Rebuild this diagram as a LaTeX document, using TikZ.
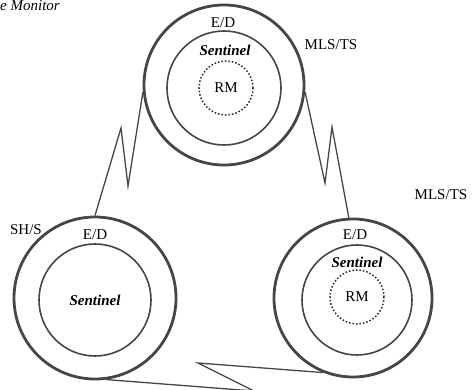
\documentclass[tikz,border=0pt]{standalone}
\usepackage{fontspec}
\setmainfont{Liberation Serif}
\usetikzlibrary{positioning}
\definecolor{RING}{HTML}{464646}
\tikzset{
    outer/.style={circle,draw=RING,line width=2.8pt,inner sep=0pt},
    inner/.style={circle,draw=RING,line width=1.6pt,inner sep=0pt},
    rmring/.style={circle,draw=black!85,line width=1.5pt,dotted,inner sep=0pt,minimum size=54pt},
    lbl/.style={font=\fontsize{15}{18}\selectfont,inner sep=0pt},
    sent/.style={font=\fontsize{15}{18}\selectfont\bfseries\itshape,inner sep=0pt},
    zig/.style={draw=RING,line width=1.3pt,line join=miter}
}

\begin{document}
\begin{tikzpicture}[x=1pt,y=-1pt]
        \useasboundingbox (0,0) rectangle (472,390);
        \node[lbl,font=\fontsize{15}{18}\selectfont\itshape,anchor=north west] (title) at (0,0.5) {e Monitor};

        % top host
        \node[outer,minimum size=160pt] (T) at (224,85) {};
        \node[inner,minimum size=114pt] (Tin) at (224,88) {};
        \node[rmring,lbl] (Trm) at (226,88) {RM};
        \node[lbl] (Ted) at (223,23) {E/D};
        \node[sent] (Tsen) at (225,50) {Sentinel};
        \node[lbl] (Tlev) at (331,45) {MLS/TS};

        % left host
        \node[outer,minimum size=162pt] (L) at (95,298) {};
        \node[inner,minimum size=112pt] (Lin) at (95,300) {};
        \node[lbl] (Led) at (95,235) {E/D};
        \node[sent] (Lsen) at (95,300) {Sentinel};
        \node[lbl] (Llev) at (26,230) {SH/S};

        % right host
        \node[outer,minimum size=158pt] (R) at (353,298) {};
        \node[inner,minimum size=110pt] (Rin) at (357,300) {};
        \node[rmring,lbl] (Rrm) at (357,297) {RM};
        \node[lbl] (Red) at (355,235) {E/D};
        \node[sent] (Rsen) at (357,262) {Sentinel};
        \node[lbl] (Rlev) at (441,195) {MLS/TS};

        % links
        \draw[zig] (T.185) -- (128,186) -- (121,128) -- (L.90);
        \draw[zig] (T.-5) -- (325,183) -- (332,127) -- (R.93);
        \draw[zig] (L.-82) -- (254,391) -- (198,363) -- (R.248);
    \end{tikzpicture}
\end{document}
